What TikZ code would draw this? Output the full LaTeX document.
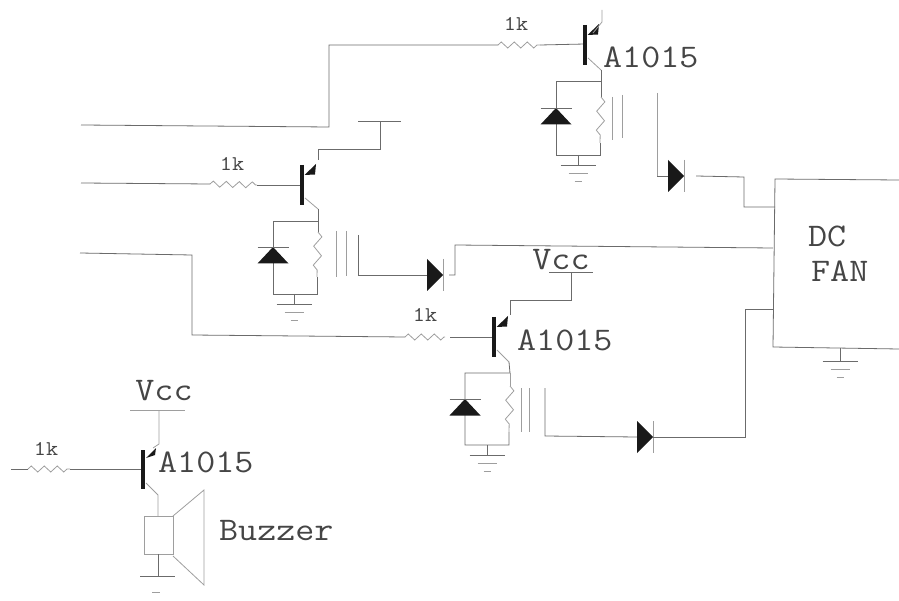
\documentclass[tikz,border=0pt]{standalone}
\usetikzlibrary{decorations.pathmorphing}
\definecolor{inkc}{gray}{0.27}
\definecolor{wirec}{gray}{0.42}
\definecolor{faintc}{gray}{0.62}
\newcommand{\widetxt}[1]{\scalebox{1.12}[1]{#1}}
\tikzset{
  wire/.style={draw=wirec,line width=0.8pt},
  thin wire/.style={draw=faintc,line width=0.8pt},
  zigh/.style={draw=faintc,line width=0.8pt,decorate,decoration={zigzag,amplitude=3pt,segment length=13pt}},
  zigv/.style={draw=faintc,line width=0.8pt,decorate,decoration={zigzag,amplitude=4pt,segment length=19pt}},
  bjtbar/.style={draw=black!90,line width=3.6pt},
  solid tip/.style={fill=black!90,draw=none},
  big/.style={text=inkc,inner sep=0pt,font=\ttfamily\fontsize{33}{36}\selectfont},
  small/.style={text=inkc,inner sep=0pt,font=\ttfamily\fontsize{21}{24}\selectfont},
}
\newcommand{\bjtsym}[3]{%
  \draw[bjtbar] (#1,#2) -- (#1,#3);
  \fill[solid tip] (#1+2.5,#2+10) -- (#1+14,#2-1) -- (#1+13,#2+9.5) -- cycle;
}
\newcommand{\gndsym}[2]{%
  \draw[wire] (#1-17.5,#2) -- (#1+17.5,#2);
  \draw[thin wire] (#1-9.5,#2+8) -- (#1+9.5,#2+8);
  \draw[thin wire] (#1-3.5,#2+16) -- (#1+3.5,#2+16);
}
\newcommand{\updiode}[2]{%
  \fill[solid tip] (#1,#2) -- (#1+15.5,#2+16.5) -- (#1-15.5,#2+16.5) -- cycle;
  \draw[wire] (#1-15.5,#2) -- (#1+15.5,#2);
}
\newcommand{\rtdiode}[2]{%
  \fill[solid tip] (#1,#2) -- (#1-16,#2-16) -- (#1-16,#2+16) -- cycle;
  \draw[thin wire] (#1,#2-16) -- (#1,#2+16);
}
\begin{document}
\begin{tikzpicture}[x=1pt,y=-1pt]
\useasboundingbox (0,0) rectangle (899,601);
% ---------- top driver
\coordinate (ta) at (81,125); \coordinate (tb) at (329,127); \coordinate (tc) at (329,45);
\coordinate (tr1) at (498,45); \coordinate (tr2) at (540,45); \coordinate (tbase) at (585,44);
\draw[wire] (ta) -- (tb) -- (tc) -- (tr1);
\draw[zigh] (tr1) -- (tr2);
\draw[wire] (tr2) -- (tbase);
\bjtsym{585}{25}{65}
\draw[thin wire] (593,33) -- (602,22) -- (602,10);
\draw[thin wire] (588,58) -- (601,70);
\coordinate (tj) at (601,81); \coordinate (tg) at (600,155);
\draw[wire] (601,70) -- (tj) -- (556,81) -- (556,155) -- (tg) -- (600,143);
\draw[wire] (tj) -- (601,97);
\draw[zigv] (601,97) -- (600,143);
\updiode{556}{108}
\draw[wire] (578,155) -- (578,165);
\gndsym{578}{165}
\draw[thin wire] (612,97) -- (612,140);
\draw[thin wire] (622,95) -- (622,138);
\draw[thin wire] (657,93) -- (657,176);
\draw[wire] (657,176) -- (668,176);
\rtdiode{684}{176}
\draw[wire] (696,176) -- (744,177) -- (744,207) -- (775,207);
% ---------- fan box
\coordinate (fnw) at (775,179); \coordinate (fne) at (899,180);
\coordinate (fsw) at (773,347); \coordinate (fse) at (899,349);
\draw[wire] (fne) -- (fnw) -- (fsw) -- (fse);
\node[big,align=left,anchor=west] (fanlabel) at (808,236) {\widetxt{DC}};
\node[big,align=left,anchor=west] (fanlabelb) at (811,271) {\widetxt{FAN}};
\draw[wire] (840,348) -- (840,361);
\gndsym{840}{361}
% ---------- second driver
\coordinate (sa) at (81,183); \coordinate (sr1) at (210,184); \coordinate (sr2) at (257,185);
\draw[wire] (sa) -- (sr1);
\draw[zigh] (sr1) -- (sr2);
\draw[wire] (sr2) -- (302,185);
\bjtsym{302}{165}{205}
\draw[wire] (318,160) -- (318,149) -- (380,149) -- (380,121);
\draw[wire] (358,121) -- (401,121);
\draw[thin wire] (305,198) -- (318,209);
\draw[wire] (318,209) -- (318,221) -- (273,221) -- (273,294) -- (317,294) -- (317,277);
\draw[wire] (318,221) -- (318,232);
\draw[zigv] (318,232) -- (317,277);
\updiode{273}{247}
\draw[wire] (294,294) -- (294,304);
\gndsym{294}{304}
\draw[thin wire] (336,231) -- (336,277);
\draw[thin wire] (346,231) -- (346,276);
\draw[wire] (358,235) -- (358,275) -- (427,275);
\rtdiode{443}{275}
\draw[wire] (449,275) -- (455,275) -- (455,245) -- (773,248);
% ---------- third driver
\coordinate (ua) at (80,253); \coordinate (ub) at (192,255); \coordinate (uc) at (192,335);
\coordinate (ur1) at (405,337); \coordinate (ur2) at (445,337);
\draw[wire] (ua) -- (ub) -- (uc) -- (ur1);
\draw[zigh] (ur1) -- (ur2);
\draw[wire] (450,337) -- (494,337);
\bjtsym{494}{317}{357}
\draw[wire] (510,315) -- (510,300) -- (571,300) -- (571,272);
\draw[wire] (549,272) -- (593,272);
\draw[thin wire] (497,350) -- (509,362);
\draw[wire] (509,362) -- (510,373) -- (465,373) -- (465,445) -- (509,445) -- (509,432);
\draw[thin wire] (510,373) -- (510,386);
\draw[zigv] (510,386) -- (509,432);
\updiode{465}{399}
\draw[wire] (487,445) -- (487,455);
\gndsym{487}{455}
\draw[thin wire] (521,388) -- (521,432);
\draw[thin wire] (529,388) -- (529,432);
\draw[wire] (545,388) -- (545,436) -- (637,437);
\rtdiode{653}{437}
\draw[wire] (653,437) -- (745,437) -- (745,309) -- (773,309);
% ---------- buzzer driver
\coordinate (ba) at (11,469); \coordinate (br1) at (28,469); \coordinate (br2) at (70,469);
\draw[wire] (ba) -- (br1);
\draw[zigh] (br1) -- (br2);
\draw[wire] (br2) -- (143,469);
\draw[bjtbar] (143,450) -- (143,489);
\fill[solid tip] (146,458) -- (156,448) -- (155,455) -- cycle;
\draw[thin wire] (153,448) -- (159,444) -- (159,410);
\draw[thin wire] (130,410) -- (185,410);
\draw[thin wire] (146,483) -- (158,495) -- (158,516);
\draw[thin wire] (144,516) rectangle (173,554);
\draw[thin wire] (173,516) -- (204,490) -- (204,585) -- (173,556);
\draw[wire] (158,554) -- (158,576);
\draw[wire] (140,576) -- (175,576);
\draw[thin wire] (152,592) -- (160,592);
% ---------- labels
\node[small] (r1) at (516,24) {\widetxt{1k}};
\node[small] (r2) at (232,164) {\widetxt{1k}};
\node[small] (r3) at (425,315) {\widetxt{1k}};
\node[small] (r4) at (46,449) {\widetxt{1k}};
\node[big,anchor=west] (q1) at (603,57) {\widetxt{A1015}};
\node[big,anchor=west] (q3) at (517,340) {\widetxt{A1015}};
\node[big,anchor=west] (q4) at (158,462) {\widetxt{A1015}};
\node[big] (v3) at (561,260) {\widetxt{Vcc}};
\node[big] (v4) at (164,391) {\widetxt{Vcc}};
\node[big,anchor=west] (bz) at (219,531) {\widetxt{Buzzer}};
\end{tikzpicture}
\end{document}
